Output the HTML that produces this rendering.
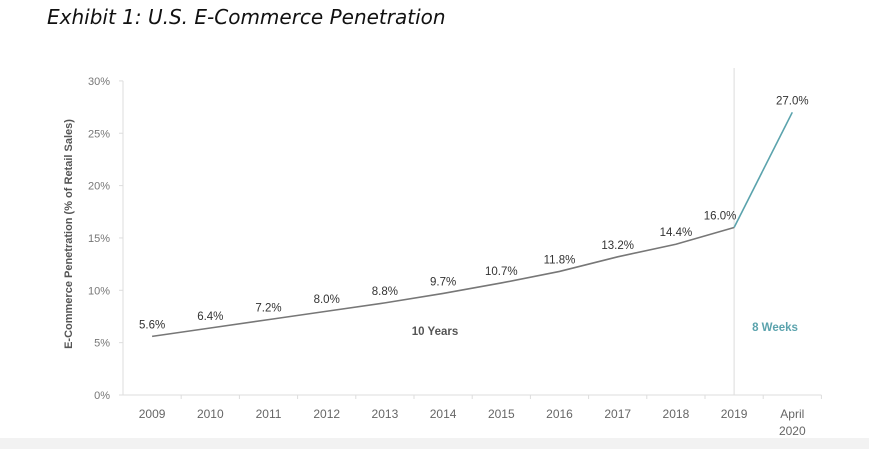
<!DOCTYPE html>
<html><head><meta charset="utf-8"><style>
body{margin:0;width:869px;height:449px;background:#fff;overflow:hidden;position:relative;font-family:"Liberation Sans",sans-serif}
#title{position:absolute;left:47px;top:5px;font-family:"DejaVu Sans",sans-serif;font-style:italic;font-size:20px;color:#111}
#strip{position:absolute;left:0;top:438px;width:869px;height:11px;background:#f2f2f2}
</style></head><body>
<div id="title">Exhibit 1: U.S. E-Commerce Penetration</div>
<div id="strip"></div>
<svg id="chart" width="869" height="449" style="position:absolute;left:0;top:0"></svg>
<script>
const categories=["2009","2010","2011","2012","2013","2014","2015","2016","2017","2018","2019","April\n2020"];
const values=[5.6,6.4,7.2,8.0,8.8,9.7,10.7,11.8,13.2,14.4,16.0,27.0];
const valueLabels=["5.6%","6.4%","7.2%","8.0%","8.8%","9.7%","10.7%","11.8%","13.2%","14.4%","16.0%","27.0%"];
const yTicks=[0,5,10,15,20,25,30];
const yTickLabels=["0%","5%","10%","15%","20%","25%","30%"];
const svg=document.getElementById('chart');const NS='http://www.w3.org/2000/svg';
const x0=123,band=58.2,yBase=395,pxPer=10.47;
const X=i=>x0+band*(i+0.5), Y=v=>yBase-v*pxPer;
function mk(t,a,p){const e=document.createElementNS(NS,t);for(const k in a)e.setAttribute(k,a[k]);(p||svg).appendChild(e);return e;}
let ax=mk('line',{x1:x0,y1:Y(30),x2:x0,y2:yBase,stroke:'#ddd'});


let bx=mk('line',{x1:x0,y1:yBase,x2:x0+band*categories.length,y2:yBase,stroke:'#ddd'});


yTicks.forEach((t,i)=>{
 mk('line',{x1:x0-4,y1:Y(t),x2:x0,y2:Y(t),stroke:'#ddd'});
 const e=mk('text',{x:x0-13,y:Y(t)+4,'text-anchor':'end','font-size':11,fill:'#777'});e.textContent=yTickLabels[i];
 
 
});
categories.forEach((c,i)=>{
 mk('line',{x1:x0+band*(i+1),y1:yBase,x2:x0+band*(i+1),y2:yBase+4,stroke:'#ddd'});
 c.split('\n').forEach((s,j)=>{const e=mk('text',{x:X(i),y:yBase+23+j*17,'text-anchor':'middle','font-size':12,fill:'#666'});e.textContent=s;
 
 });
});
const n=values.length;
let div=mk('line',{x1:X(n-2),y1:68,x2:X(n-2),y2:yBase,stroke:'#ddd'});


let pts=values.slice(0,n-1).map((v,i)=>X(i)+','+Y(v)).join(' ');
let l1=mk('polyline',{points:pts,fill:'none',stroke:'#777','stroke-width':1.6});


let l2=mk('line',{x1:X(n-2),y1:Y(values[n-2]),x2:X(n-1),y2:Y(values[n-1]),stroke:'#5ba3ad','stroke-width':1.6});


values.forEach((v,i)=>{
 const dx=i===n-2?-14:0;
 const e=mk('text',{x:X(i)+dx,y:Y(v)-8,'text-anchor':'middle','font-size':11.5,fill:'#333'});e.textContent=valueLabels[i];
 
 
});
let a1=mk('text',{x:435,y:335,'text-anchor':'middle','font-size':11.5,'font-weight':'bold',fill:'#555'});a1.textContent='10 Years';


let a2=mk('text',{x:775,y:331,'text-anchor':'middle','font-size':11.5,'font-weight':'bold',fill:'#5ba3ad'});a2.textContent='8 Weeks';


let yt=mk('text',{x:0,y:0,transform:'translate(72,234) rotate(-90)','text-anchor':'middle','font-size':11,'font-weight':'bold',fill:'#555'});yt.textContent='E-Commerce Penetration (% of Retail Sales)';


</script>
</body></html>
